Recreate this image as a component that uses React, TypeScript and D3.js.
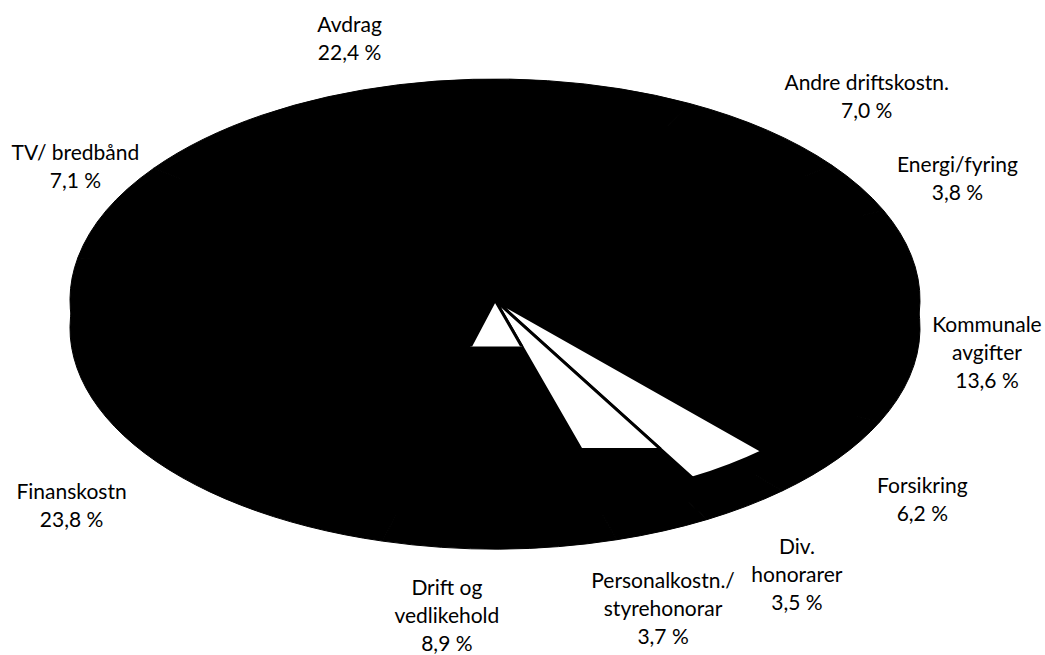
import React, {useEffect, useRef} from 'react';
import * as d3 from 'd3';

// slice data, clockwise from the first slice
const categories = [
    "Avdrag",
    "Andre driftskostn.",
    "Energi/fyring",
    "Kommunale\navgifter",
    "Forsikring",
    "Div.\nhonorarer",
    "Personalkostn./\nstyrehonorar",
    "Drift og\nvedlikehold",
    "Finanskostn",
    "TV/ bredbånd"
];
const shares = [22.4, 7.0, 3.8, 13.6, 6.2, 3.5, 3.7, 8.9, 23.8, 7.1];

const width = 1045, height = 655;

/** Flattened ("3D") pie chart drawn with d3 */
export default function App() {
    const ref = useRef<SVGSVGElement>(null);

    useEffect(() => {
        const svg = d3.select(ref.current);
        svg.selectAll("*").remove();

        const cx = 495, cy = 300, rx = 425, ry = 221, depth = 28;
        const start = -53.4 * Math.PI / 180;

        const pie = d3.pie<number>()
            .sort(null)
            .value(d => d)
            .startAngle(start)
            .endAngle(start + 2 * Math.PI);
        const arcs = pie(shares);

        const arc = d3.arc<d3.PieArcDatum<number>>()
            .innerRadius(0)
            .outerRadius(rx);

        const flatten = "scale(1," + (ry / rx) + ")";

        // side wall, then top face (both dark)
        [cy + depth, cy].forEach(y => {
            svg.append("g")
                .attr("transform", "translate(" + cx + "," + y + ") " + flatten)
                .selectAll("path")
                .data(arcs)
                .join("path")
                .attr("fill", "#000")
                .attr("stroke", "#000")
                .attr("stroke-width", 1)
                .attr("vector-effect", "non-scaling-stroke")
                .attr("d", arc);
        });

        // the light parts of the top face (reach = share of radius, cut = clip below centre)
        const light: Record<string, {reach: number, cut: number}> = {
            "Div.\nhonorarer": {reach: 0.93, cut: 2},
            "Personalkostn./\nstyrehonorar": {reach: 1, cut: 0.67},
            "Drift og\nvedlikehold": {reach: 1, cut: 0.21}
        };
        const defs = svg.append("defs");
        arcs.forEach((d, i) => {
            const l = light[categories[i]];
            if (!l) return;
            defs.append("clipPath")
                .attr("id", "cut" + i)
                .append("rect")
                .attr("x", 0).attr("y", 0)
                .attr("width", width)
                .attr("height", cy + l.cut * ry);
            svg.append("g")
                .attr("clip-path", "url(#cut" + i + ")")
                .append("path")
                .attr("transform", "translate(" + cx + "," + cy + ") " + flatten)
                .attr("fill", "#fff")
                .attr("stroke", "#000")
                .attr("stroke-width", 3)
                .attr("vector-effect", "non-scaling-stroke")
                .attr("d", d3.arc<d3.PieArcDatum<number>>().innerRadius(0).outerRadius(rx * l.reach)(d));
        });

        // label placement: arc direction, then nudged like the original layout
        const nudge: Record<string, [number, number]> = {
            "Avdrag": [-30, -5],
            "Andre driftskostn.": [45, -1],
            "Energi/fyring": [24, 12],
            "Kommunale\navgifter": [-18, 20],
            "Forsikring": [16, 13],
            "Div.\nhonorarer": [0, 31],
            "Personalkostn./\nstyrehonorar": [-34, 36],
            "Drift og\nvedlikehold": [-54, 21],
            "Finanskostn": [10, 36],
            "TV/ bredbånd": [47, -28]
        };
        const pct = (v: number) => d3.format(".1f")(v).replace(".", ",") + " %";
        const lh = 28;

        arcs.forEach((d, i) => {
            const a = (d.startAngle + d.endAngle) / 2;
            const n = nudge[categories[i]];
            const x = cx + 1.2 * rx * Math.sin(a) + n[0];
            const y = cy - 1.2 * ry * Math.cos(a) + (Math.cos(a) < 0 ? depth : 0) + n[1];
            const lines = categories[i].split("\n").concat([pct(d.data)]);
            const text = svg.append("text")
                .attr("text-anchor", "middle")
                .attr("dominant-baseline", "central")
                .attr("font-family", "Lato, 'Open Sans', sans-serif")
                .attr("font-size", 21)
                .attr("fill", "#000");
            lines.forEach((s, j) => {
                text.append("tspan")
                    .attr("x", x)
                    .attr("y", y + (j - (lines.length - 1) / 2) * lh)
                    .text(s);
            });
        });
    }, []);

    return <svg ref={ref} width={width} height={height}
                style={{position: "absolute", left: 0, top: 0, background: "#fff"}}/>;
}
